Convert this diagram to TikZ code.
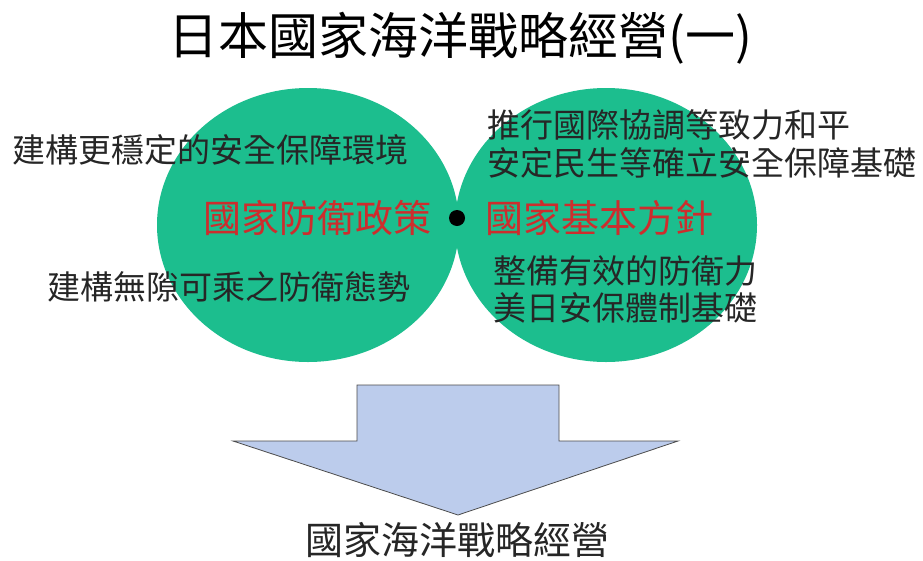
\documentclass[tikz,border=0pt]{standalone}
\usepackage{fontspec}
\setmainfont{Noto Sans CJK TC}
\newfontfamily\cjk{Noto Sans CJK TC}
\usetikzlibrary{shapes.geometric}
\definecolor{circgreen}{RGB}{28,190,142}
\definecolor{arrowblue}{RGB}{188,204,236}
\definecolor{redtxt}{RGB}{205,45,45}
\tikzset{
  bubble/.style={ellipse, fill=circgreen, draw=none, inner sep=0pt, minimum width=302pt, minimum height=274pt},
  txt/.style={font=\cjk\fontsize{33}{38}\selectfont, text=black!85, anchor=west, inner sep=0pt, align=left},
  redlbl/.style={font=\cjk\fontsize{38}{42}\selectfont, text=redtxt, inner sep=0pt},
}
\begin{document}
\begin{tikzpicture}[x=1pt,y=-1pt]
\useasboundingbox (0,0) rectangle (923,560);
\fill[white] (0,0) rectangle (923,560);
% title
\node[font=\cjk\fontsize{50}{54}\selectfont, inner sep=0pt] (title) at (460,38) {日本國家海洋戰略經營(一)};
% ellipses
\node[bubble] (left) at (308,225) {};
\node[bubble] (right) at (606,225) {};
\node[circle, fill=black, minimum size=16pt, inner sep=0pt] (dot) at (457,218) {};
% texts
\node[txt] (t1) at (12,150) {建構更穩定的安全保障環境};
\node[txt] (t2) at (487,125) {推行國際協調等致力和平};
\node[txt] (t3) at (487,163) {安定民生等確立安全保障基礎};
\node[redlbl, anchor=east] (r1) at (432,218) {國家防衛政策};
\node[redlbl, anchor=west] (r2) at (485,218) {國家基本方針};
\node[txt] (t4) at (47,287) {建構無隙可乘之防衛態勢};
\node[txt] (t5) at (493,271) {整備有效的防衛力};
\node[txt] (t6) at (493,308) {美日安保體制基礎};
% arrow
\draw[draw=black!70, line width=0.8pt, fill=arrowblue]
  (357,385) -- (559,385) -- (559,441) -- (678,441) -- (458,515) -- (233,441) -- (357,441) -- cycle;
\node[font=\cjk\fontsize{38}{42}\selectfont, text=black!85, inner sep=0pt] (bottom) at (457,540) {國家海洋戰略經營};
\end{tikzpicture}
\end{document}
